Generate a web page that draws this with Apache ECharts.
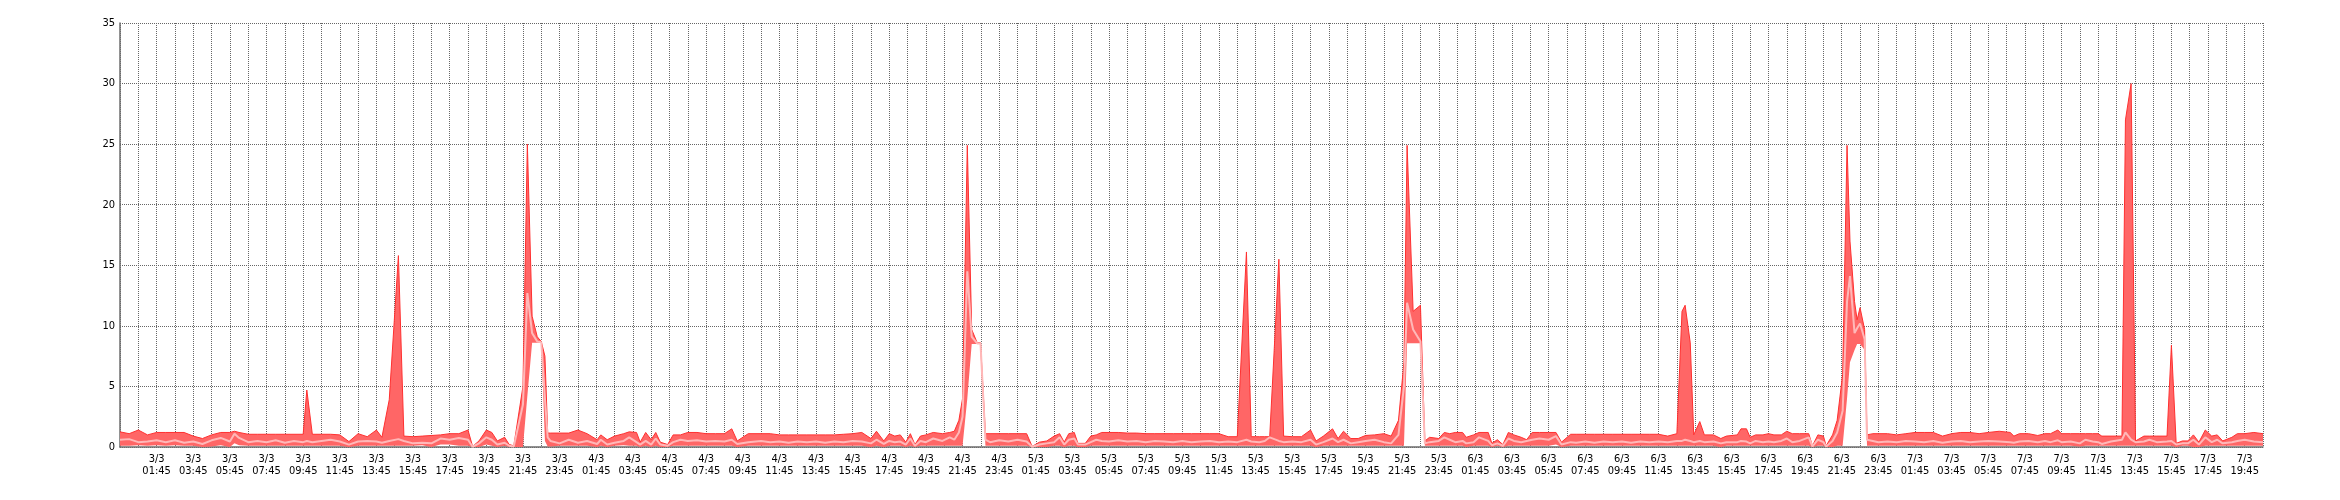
<!DOCTYPE html>
<html>
<head>
<meta charset="utf-8">
<script src="https://cdn.jsdelivr.net/npm/echarts@6/dist/echarts.min.js"></script>
<style>
html,body{margin:0;padding:0;background:#fff;}
#c{width:2340px;height:500px;}
</style>
</head>
<body>
<div id="c"></div>
<script>
// x = hours since 2/3 23:45 (10 points per line in every array)
const hours = [
  0, 0.5, 1, 1.5, 2, 2.5, 3, 3.5, 4, 4.5,
  5, 5.5, 6, 6.25, 6.5, 7, 7.5, 8, 8.5, 9,
  9.5, 10, 10.2, 10.5, 11, 11.5, 12, 12.5, 13, 13.5,
  14, 14.3, 14.7, 15.2, 15.5, 16, 16.5, 17, 17.5, 18,
  18.5, 19, 19.25, 19.6, 20, 20.3, 20.6, 21, 21.25, 21.5,
  22, 22.24, 22.5, 22.78, 23, 23.2, 23.35, 23.5, 24, 24.5,
  25, 25.5, 26.05, 26.25, 26.6, 27, 27.5, 27.8, 28.2, 28.4,
  28.7, 29, 29.25, 29.5, 29.9, 30.2, 30.6, 31, 31.5, 32,
  32.5, 33, 33.4, 33.7, 34.3, 35, 35.5, 36, 36.5, 37,
  37.5, 38, 38.5, 39, 39.5, 40, 40.5, 41, 41.3, 41.7,
  42, 42.3, 42.6, 42.9, 43.15, 43.4, 43.7, 44, 44.4, 44.9,
  45.3, 45.55, 45.8, 46, 46.26, 46.5, 46.8, 46.98, 47.25, 47.5,
  48, 48.5, 49, 49.5, 49.8, 50.2, 50.6, 51, 51.3, 51.55,
  51.8, 52.1, 52.3, 52.7, 53, 53.3, 53.6, 54, 54.5, 55,
  55.5, 56, 56.5, 57, 57.5, 58, 58.5, 59, 59.5, 60,
  60.5, 61, 61.5, 61.76, 62.2, 62.5, 62.77, 63.27, 63.53, 64,
  64.5, 65, 65.3, 65.7, 66.2, 66.5, 66.8, 67.2, 67.6, 68,
  68.5, 69, 69.4, 69.8, 70.1, 70.27, 70.6, 71, 71.24, 71.5,
  72, 72.3, 72.6, 72.9, 73.3, 73.5, 73.9, 74.2, 74.7, 74.9,
  75.2, 75.5, 75.8, 76.1, 76.5, 76.8, 77.1, 77.5, 78, 78.4,
  78.7, 79.2, 79.5, 80, 80.5, 81, 81.5, 82, 82.5, 83,
  83.5, 84, 84.5, 85, 85.28, 85.45, 85.73, 85.92, 86.25, 86.5,
  87, 87.4, 87.7, 88.3, 88.5, 88.8, 89, 89.3, 89.7, 90,
  90.3, 90.7, 91, 91.3, 91.7, 92.2, 92.4, 92.7, 93, 93.15,
  93.5, 93.75, 94.05, 94.29, 94.45, 94.7, 94.84, 95, 95.25, 95.38,
  95.7, 96, 96.5, 97, 97.5, 98, 98.5, 99, 99.5, 100,
  100.5, 101, 101.5, 102, 102.6, 103.2, 103.4, 103.7, 104.2, 104.7,
  105.1, 105.4, 105.8, 106, 106.5, 107, 107.3, 107.7, 108, 108.2,
  108.7, 109.3, 109.49, 109.8, 110.04, 110.5, 110.8, 111.2, 111.76, 112,
  112.26, 112.6, 112.9, 113.2, 113.5, 113.85, 114.2, 114.5, 114.8, 115.3,
  115.6, 116, 116.5, 117
];

const maxVals = [
  1.25, 1.1, 1.4, 1.0, 1.2, 1.2, 1.2, 1.2, 0.9, 0.7,
  1.0, 1.2, 1.2, 1.3, 1.2, 1.05, 1.05, 1.05, 1.05, 1.05,
  1.05, 1.05, 4.7, 1.05, 1.05, 1.05, 1.0, 0.45, 1.1, 0.85,
  1.4, 0.8, 3.9, 15.8, 0.9, 0.85, 0.9, 0.95, 1.0, 1.1,
  1.1, 1.4, 0.05, 0.5, 1.4, 1.2, 0.5, 0.8, 0.2, 0.1,
  5.0, 25.0, 10.8, 9.1, 8.7, 7.5, 1.15, 1.15, 1.15, 1.15,
  1.4, 1.1, 0.6, 1.0, 0.6, 0.9, 1.1, 1.25, 1.2, 0.4,
  1.2, 0.6, 1.2, 0.4, 0.2, 1.0, 1.0, 1.2, 1.2, 1.1,
  1.1, 1.1, 1.5, 0.5, 1.1, 1.1, 1.1, 1.0, 1.0, 1.0,
  1.0, 1.0, 1.0, 1.0, 1.05, 1.1, 1.2, 0.7, 1.3, 0.5,
  1.1, 0.9, 1.0, 0.4, 1.1, 0.2, 0.9, 1.0, 1.2, 1.1,
  1.2, 1.3, 2.2, 4.0, 24.9, 9.7, 8.6, 8.6, 1.1, 1.1,
  1.1, 1.1, 1.1, 1.1, 0.05, 0.4, 0.5, 0.9, 1.1, 0.4,
  1.1, 1.2, 0.3, 0.3, 0.9, 1.0, 1.2, 1.2, 1.2, 1.15,
  1.15, 1.1, 1.1, 1.1, 1.1, 1.1, 1.1, 1.1, 1.1, 1.1,
  0.85, 0.85, 16.1, 0.85, 0.85, 0.85, 0.85, 15.5, 0.9, 0.85,
  0.85, 1.4, 0.5, 0.9, 1.5, 0.7, 1.3, 0.7, 0.7, 0.95,
  1.0, 1.1, 0.9, 2.2, 7.0, 24.9, 11.2, 11.7, 0.5, 0.8,
  0.7, 1.2, 1.1, 1.2, 1.2, 0.8, 1.0, 1.2, 1.2, 0.3,
  0.6, 0.2, 1.2, 1.0, 0.8, 0.6, 1.2, 1.2, 1.2, 1.2,
  0.4, 1.05, 1.05, 1.05, 1.05, 1.05, 1.05, 1.05, 1.05, 1.05,
  1.05, 1.05, 0.9, 1.1, 11.2, 11.7, 8.6, 1.0, 2.1, 1.0,
  1.0, 0.7, 0.9, 1.0, 1.5, 1.5, 0.8, 1.0, 1.0, 1.1,
  1.0, 1.0, 1.3, 1.1, 1.1, 1.1, 0.1, 1.0, 0.9, 0.1,
  1.0, 2.2, 6.0, 24.9, 17.0, 12.0, 10.5, 11.5, 9.7, 1.0,
  1.1, 1.1, 1.1, 1.0, 1.1, 1.2, 1.2, 1.2, 0.9, 1.1,
  1.2, 1.2, 1.1, 1.2, 1.3, 1.2, 0.9, 1.1, 1.1, 0.95,
  1.1, 1.1, 1.4, 1.1, 1.1, 1.1, 1.1, 1.1, 1.1, 0.9,
  0.9, 0.9, 27.0, 30.0, 0.5, 0.9, 0.9, 0.9, 0.9, 8.4,
  0.3, 0.5, 0.5, 1.0, 0.4, 1.4, 0.9, 1.0, 0.5, 0.8,
  1.1, 1.1, 1.2, 1.1
];

const minVals = [
  0.1, 0.1, 0.15, 0.1, 0.15, 0.1, 0.15, 0.1, 0.1, 0.0,
  0.05, 0.15, 0.0, 0.3, 0.15, 0.1, 0.1, 0.1, 0.1, 0.1,
  0.1, 0.1, 0.1, 0.1, 0.1, 0.1, 0.1, 0.0, 0.1, 0.1,
  0.1, 0.1, 0.1, 0.1, 0.1, 0.1, 0.15, 0.0, 0.2, 0.2,
  0.1, 0.1, 0.0, 0.0, 0.2, 0.1, 0.0, 0.1, 0.0, 0.0,
  0.0, 4.2, 8.6, 8.6, 8.6, 0.5, 0.05, 0.05, 0.1, 0.1,
  0.1, 0.1, 0.0, 0.1, 0.0, 0.1, 0.15, 0.1, 0.1, 0.0,
  0.1, 0.0, 0.1, 0.0, 0.0, 0.1, 0.1, 0.1, 0.1, 0.1,
  0.1, 0.1, 0.1, 0.0, 0.1, 0.1, 0.1, 0.1, 0.1, 0.1,
  0.1, 0.1, 0.1, 0.1, 0.1, 0.1, 0.1, 0.0, 0.1, 0.0,
  0.1, 0.1, 0.1, 0.0, 0.1, 0.0, 0.1, 0.1, 0.1, 0.1,
  0.1, 0.1, 0.1, 0.1, 4.0, 8.5, 8.5, 8.5, 0.1, 0.1,
  0.1, 0.1, 0.1, 0.1, 0.0, 0.0, 0.0, 0.1, 0.1, 0.0,
  0.1, 0.1, 0.0, 0.0, 0.1, 0.1, 0.1, 0.1, 0.1, 0.1,
  0.1, 0.1, 0.1, 0.1, 0.1, 0.1, 0.1, 0.1, 0.1, 0.1,
  0.1, 0.1, 0.1, 0.1, 0.1, 0.1, 0.1, 0.1, 0.1, 0.1,
  0.1, 0.1, 0.0, 0.1, 0.1, 0.1, 0.1, 0.1, 0.1, 0.1,
  0.1, 0.1, 0.1, 0.1, 0.1, 8.56, 8.56, 8.56, 0.1, 0.1,
  0.1, 0.1, 0.1, 0.1, 0.1, 0.0, 0.1, 0.1, 0.1, 0.0,
  0.1, 0.0, 0.1, 0.1, 0.1, 0.1, 0.1, 0.1, 0.1, 0.2,
  0.0, 0.1, 0.1, 0.1, 0.1, 0.1, 0.1, 0.1, 0.1, 0.1,
  0.1, 0.1, 0.1, 0.1, 0.1, 0.1, 0.1, 0.1, 0.1, 0.1,
  0.1, 0.0, 0.1, 0.1, 0.1, 0.1, 0.1, 0.1, 0.1, 0.1,
  0.1, 0.1, 0.1, 0.1, 0.1, 0.1, 0.0, 0.1, 0.1, 0.0,
  0.0, 0.1, 0.1, 4.0, 7.0, 8.0, 8.5, 8.5, 8.0, 0.1,
  0.1, 0.1, 0.1, 0.1, 0.1, 0.1, 0.1, 0.1, 0.1, 0.1,
  0.1, 0.1, 0.1, 0.1, 0.1, 0.1, 0.1, 0.1, 0.1, 0.1,
  0.1, 0.1, 0.1, 0.1, 0.1, 0.05, 0.1, 0.1, 0.1, 0.1,
  0.1, 0.1, 0.1, 0.1, 0.1, 0.1, 0.1, 0.1, 0.1, 0.1,
  0.0, 0.1, 0.1, 0.0, 0.0, 0.1, 0.1, 0.1, 0.1, 0.1,
  0.1, 0.1, 0.1, 0.1
];

const avgVals = [
  0.6, 0.65, 0.4, 0.45, 0.55, 0.4, 0.55, 0.35, 0.45, 0.25,
  0.55, 0.75, 0.45, 1.1, 0.75, 0.4, 0.5, 0.4, 0.55, 0.35,
  0.5, 0.4, 0.5, 0.4, 0.5, 0.6, 0.45, 0.2, 0.45, 0.5,
  0.45, 0.35, 0.5, 0.65, 0.5, 0.3, 0.35, 0.3, 0.7, 0.6,
  0.75, 0.6, 0.02, 0.3, 0.8, 0.6, 0.2, 0.35, 0.1, 0.05,
  3.5, 12.7, 9.4, 8.7, 8.65, 4.0, 0.8, 0.5, 0.3, 0.6,
  0.35, 0.5, 0.25, 0.6, 0.2, 0.35, 0.5, 0.8, 0.4, 0.2,
  0.5, 0.2, 0.7, 0.2, 0.1, 0.4, 0.6, 0.5, 0.55, 0.45,
  0.5, 0.45, 0.6, 0.25, 0.4, 0.5, 0.4, 0.45, 0.35, 0.45,
  0.4, 0.45, 0.35, 0.45, 0.4, 0.5, 0.45, 0.3, 0.6, 0.25,
  0.5, 0.4, 0.45, 0.2, 0.7, 0.1, 0.5, 0.4, 0.7, 0.5,
  0.8, 0.6, 1.2, 2.5, 14.5, 9.1, 8.55, 8.55, 0.6, 0.4,
  0.55, 0.45, 0.6, 0.45, 0.02, 0.2, 0.3, 0.4, 0.8, 0.2,
  0.6, 0.7, 0.2, 0.2, 0.4, 0.6, 0.5, 0.45, 0.55, 0.45,
  0.5, 0.4, 0.5, 0.45, 0.4, 0.5, 0.4, 0.45, 0.5, 0.4,
  0.45, 0.4, 0.6, 0.45, 0.4, 0.5, 0.8, 0.5, 0.4, 0.45,
  0.4, 0.6, 0.2, 0.4, 0.7, 0.4, 0.6, 0.3, 0.4, 0.5,
  0.6, 0.4, 0.3, 1.0, 5.0, 11.9, 9.7, 8.7, 0.3, 0.4,
  0.5, 0.8, 0.6, 0.4, 0.5, 0.3, 0.4, 0.8, 0.5, 0.15,
  0.3, 0.1, 0.7, 0.5, 0.4, 0.5, 0.6, 0.7, 0.6, 0.9,
  0.2, 0.4, 0.35, 0.45, 0.35, 0.45, 0.4, 0.45, 0.35, 0.45,
  0.4, 0.45, 0.4, 0.5, 0.5, 0.6, 0.5, 0.4, 0.5, 0.4,
  0.45, 0.3, 0.4, 0.4, 0.5, 0.45, 0.3, 0.5, 0.4, 0.45,
  0.4, 0.5, 0.7, 0.4, 0.5, 0.8, 0.05, 0.6, 0.4, 0.05,
  0.5, 1.2, 3.0, 12.0, 14.1, 9.4, 9.8, 10.2, 8.9, 0.6,
  0.5, 0.4, 0.45, 0.4, 0.5, 0.45, 0.4, 0.5, 0.35, 0.45,
  0.5, 0.4, 0.45, 0.5, 0.45, 0.4, 0.35, 0.45, 0.5, 0.4,
  0.5, 0.4, 0.55, 0.4, 0.45, 0.3, 0.6, 0.45, 0.4, 0.25,
  0.45, 0.6, 1.2, 0.6, 0.4, 0.45, 0.6, 0.4, 0.45, 0.5,
  0.2, 0.3, 0.3, 0.6, 0.2, 0.8, 0.4, 0.6, 0.3, 0.4,
  0.5, 0.6, 0.45, 0.4
];

const yTicks = [0, 5, 10, 15, 20, 25, 30, 35];
const START_DAY = 2, START_MIN = 23 * 60 + 45; // x = 0 is 2/3 23:45

function xLabel(h) {
  if (h === 0 || h % 2 !== 0) return '';
  const total = START_DAY * 1440 + START_MIN + Math.round(h * 60);
  const day = Math.floor(total / 1440);
  const rem = total % 1440;
  const hh = String(Math.floor(rem / 60)).padStart(2, '0');
  const mm = String(rem % 60).padStart(2, '0');
  return day + '/3\n' + hh + ':' + mm;
}

// items are [value, hour] so that stacking happens on the value (y) dimension
const n = Math.min(hours.length, maxVals.length, minVals.length, avgVals.length);
const minData = [], bandData = [], avgData = [];
for (let i = 0; i < n; i++) {
  minData.push([minVals[i], hours[i]]);
  bandData.push([+(maxVals[i] - minVals[i]).toFixed(3), hours[i]]);
  avgData.push([avgVals[i], hours[i]]);
}

const FONT = "'DejaVu Sans Condensed', 'DejaVu Sans', sans-serif";
const chart = echarts.init(document.getElementById('c'), null, {renderer: 'canvas'});
const gridLine = {show: true, lineStyle: {color: '#666666', width: 1, type: [1, 1]}};
chart.setOption({
  animation: false,
  backgroundColor: '#ffffff',
  grid: {left: 120, right: 77, top: 23, bottom: 53, containLabel: false},
  xAxis: {
    type: 'value', min: 0, max: 117, interval: 1,
    axisLine: {show: true, onZero: false, lineStyle: {color: '#6e6e6e', width: 1.5}},
    axisTick: {show: false},
    splitLine: gridLine,
    axisLabel: {
      formatter: xLabel, color: '#000', fontFamily: FONT, fontSize: 11,
      lineHeight: 12, margin: 6, showMinLabel: true, showMaxLabel: true, hideOverlap: false
    }
  },
  yAxis: {
    type: 'value', min: yTicks[0], max: yTicks[yTicks.length - 1], interval: 5,
    axisLine: {show: true, lineStyle: {color: '#6e6e6e', width: 1.5}},
    axisTick: {show: false},
    splitLine: gridLine,
    axisLabel: {color: '#000', fontFamily: FONT, fontSize: 11, margin: 5}
  },
  series: [
    {
      name: 'min', type: 'line', stack: 'band', data: minData, encode: {x: 1, y: 0},
      symbol: 'none', lineStyle: {width: 0, opacity: 0}, silent: true, z: 2
    },
    {
      name: 'max', type: 'line', stack: 'band', data: bandData, encode: {x: 1, y: 0},
      symbol: 'none', lineStyle: {width: 1, color: '#ff3030'},
      areaStyle: {color: '#ff6666', opacity: 1}, silent: true, z: 2
    },
    {
      name: 'avg', type: 'line', data: avgData, encode: {x: 1, y: 0},
      symbol: 'none', lineStyle: {width: 2, color: '#ffb8b8'}, silent: true, z: 3
    }
  ]
});
</script>
</body>
</html>
